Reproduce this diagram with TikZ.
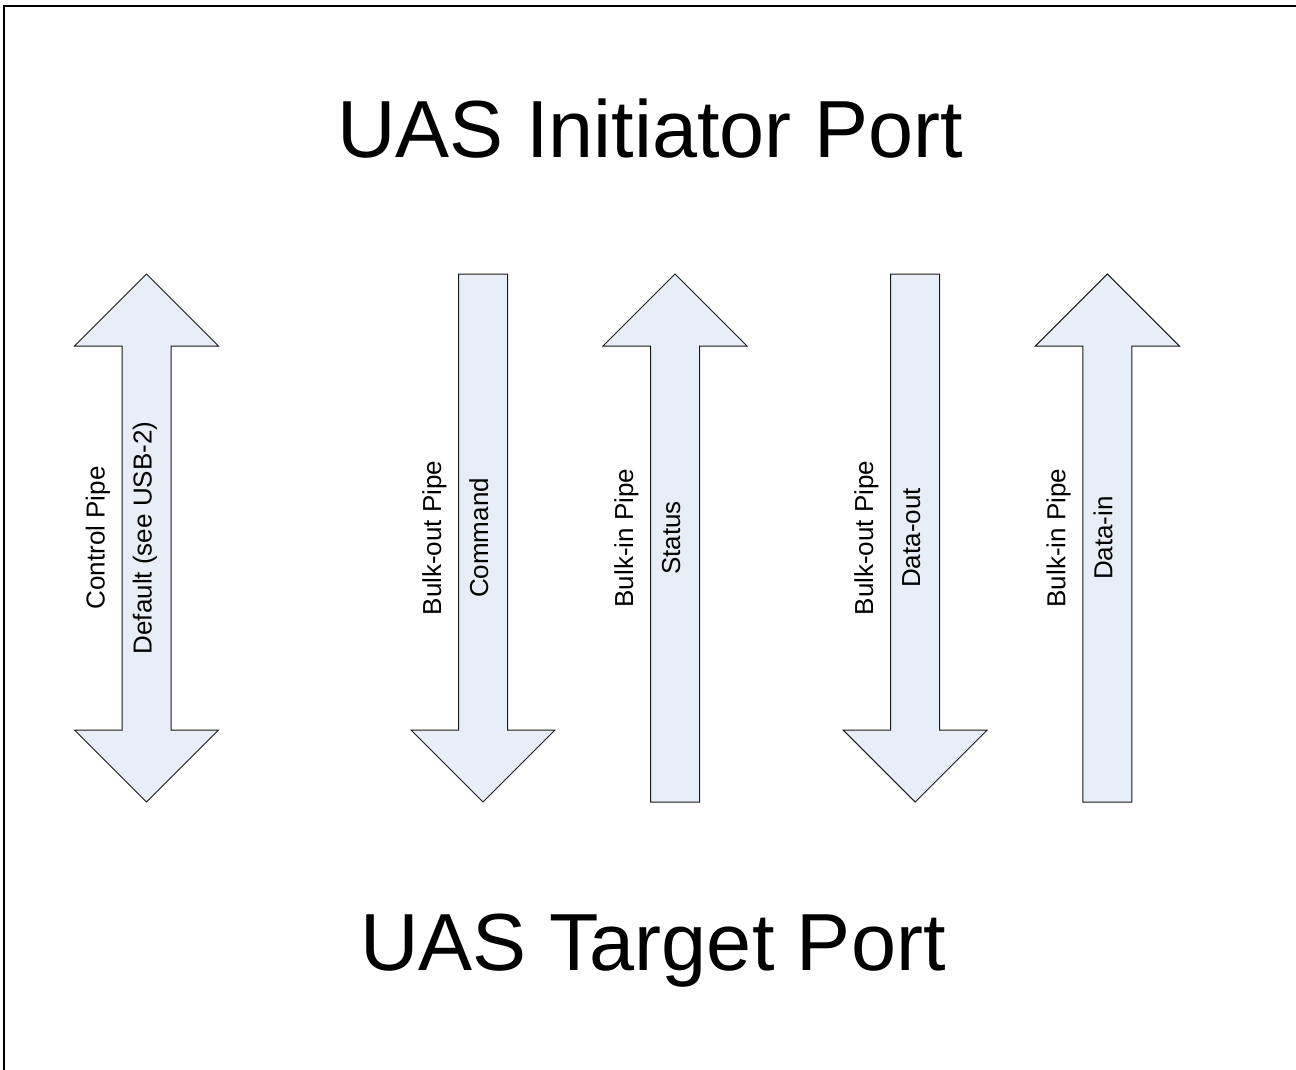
\documentclass[tikz,border=0pt]{standalone}
\usepackage{fontspec}
\setmainfont{Liberation Sans}
\definecolor{pipefill}{RGB}{232,238,247}
\begin{document}
\begin{tikzpicture}[x=1pt,y=-1pt,
  pipe/.style={draw=black!90, fill=pipefill, line width=1pt, line join=miter},
  lbl/.style={rotate=90, font=\fontsize{26}{30}\selectfont, inner sep=0pt, anchor=base},
  title/.style={font=\fontsize{81}{90}\selectfont, inner sep=0pt, anchor=base},
  frame/.style={draw=black, line width=2pt}]
\useasboundingbox (0,0) rectangle (1296,1069);
\draw[frame] (4,1075) -- (4,6) -- (1300,6);

\node[title] (initiator) at (650,157) {UAS Initiator Port};
\node[title] (target) at (653,970) {UAS Target Port};

% Control pipe (double arrow)
\path[pipe] (146.5,274) -- (218.5,346) -- (171,346) -- (171,730) -- (218.5,730) -- (146.5,802)
  -- (74.5,730) -- (122,730) -- (122,346) -- (74.5,346) -- cycle;
% Command (down)
\path[pipe] (458.5,274) -- (507.5,274) -- (507.5,730) -- (555,730) -- (483,802) -- (411,730)
  -- (458.5,730) -- cycle;
% Status (up)
\path[pipe] (675,274) -- (747,346) -- (699.5,346) -- (699.5,802) -- (650.5,802) -- (650.5,346)
  -- (603,346) -- cycle;
% Data-out (down)
\path[pipe] (890.7,274) -- (939.7,274) -- (939.7,730) -- (987.2,730) -- (915.2,802) -- (843.2,730)
  -- (890.7,730) -- cycle;
% Data-in (up)
\path[pipe] (1107.3,274) -- (1179.3,346) -- (1131.8,346) -- (1131.8,802) -- (1082.8,802) -- (1082.8,346)
  -- (1035.3,346) -- cycle;

\node[lbl] (ctrl) at (104.5,538) {Control Pipe};
\node[lbl] (dflt) at (151.5,538) {Default (see USB-2)};
\node[lbl] (bo1) at (441,538) {Bulk-out Pipe};
\node[lbl] (cmd) at (488,538) {Command};
\node[lbl] (bi1) at (633,538) {Bulk-in Pipe};
\node[lbl] (sts) at (680,538) {Status};
\node[lbl] (bo2) at (873.2,538) {Bulk-out Pipe};
\node[lbl] (dout) at (920.2,538) {Data-out};
\node[lbl] (bi2) at (1065.3,538) {Bulk-in Pipe};
\node[lbl] (din) at (1112.3,538) {Data-in};
\end{tikzpicture}
\end{document}
